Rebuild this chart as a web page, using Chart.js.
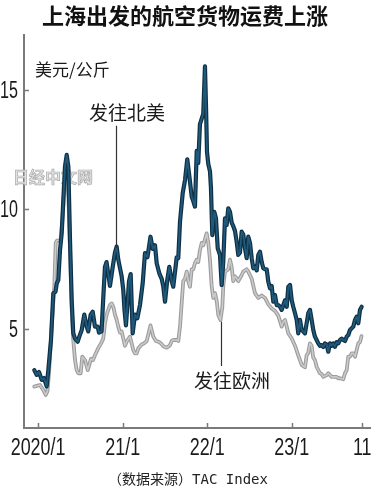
<!DOCTYPE html>
<html>
<head>
<meta charset="utf-8">
<script src="https://cdn.jsdelivr.net/npm/chart.js@4.4.0/dist/chart.umd.min.js"></script>
<style>
  html, body { margin: 0; padding: 0; background: #fff; }
  #wrap { width: 378px; height: 487px; }
</style>
</head>
<body>
<div id="wrap"><canvas id="chart" width="378" height="487"></canvas></div>
<script>
// months counted from 2020/1, rates in USD per kg
const naMonths = [-0.54, -0.20, 0.13, 0.51, 0.84, 1.22, 1.45, 1.83, 2.16, 2.47, 2.64, 2.87, 3.11, 3.35, 3.58, 3.82, 4.06, 4.29, 4.53, 4.77,
  4.99, 5.24, 5.62, 5.85, 6.19, 6.56, 6.90, 7.12, 7.46, 7.75, 8.07, 8.46, 8.64, 9.00, 9.25, 9.49, 9.71, 9.96, 10.20, 10.59,
  10.91, 11.15, 11.38, 11.86, 12.09, 12.26, 12.47, 12.71, 12.90, 13.14, 13.42, 13.75, 14.08, 14.46, 14.84, 15.17, 15.52, 15.95, 16.26, 16.59,
  16.83, 17.20, 17.54, 17.77, 18.01, 18.33, 18.62, 18.96, 19.18, 19.67, 19.89, 20.14, 20.52, 20.85, 21.17, 21.46, 21.80, 22.02, 22.26, 22.51,
  22.73, 22.97, 23.22, 23.44, 23.68, 23.83, 23.97, 24.15, 24.39, 24.53, 24.72, 25.00, 25.24, 25.49, 25.81, 26.05, 26.28, 26.52, 26.76, 26.99,
  27.23, 27.47, 27.70, 27.94, 28.18, 28.41, 28.65, 28.89, 29.12, 29.36, 29.60, 29.83, 30.07, 30.31, 30.54, 30.78, 31.02, 31.25, 31.49, 31.73,
  31.96, 32.20, 32.44, 32.67, 32.91, 33.15, 33.38, 33.62, 33.86, 34.09, 34.33, 34.57, 34.80, 35.04, 35.28, 35.51, 35.75, 35.99, 36.21, 36.46,
  36.70, 36.92, 37.16, 37.41, 37.63, 37.87, 38.11, 38.34, 38.58, 38.82, 39.05, 39.29, 39.53, 39.76, 40.00, 40.24, 40.47, 40.71, 40.95, 41.18,
  41.42, 41.66, 41.89, 42.13, 42.37, 42.60, 42.84, 43.08, 43.31, 43.55, 43.79, 44.02, 44.26, 44.50, 44.73, 44.97, 45.21, 45.44, 45.68, 45.92];
const naRate = [3.28, 3.08, 3.20, 2.87, 2.95, 2.60, 3.28, 4.54, 6.50, 6.56, 6.90, 7.05, 8.30, 9.00, 10.40, 11.80, 12.28, 11.80, 8.70, 6.20,
  4.83, 4.60, 4.47, 4.68, 4.96, 5.60, 5.10, 4.90, 5.60, 5.72, 5.10, 5.10, 4.85, 4.90, 6.30, 7.60, 7.80, 7.30, 6.80, 7.60,
  8.20, 8.45, 7.90, 7.20, 6.63, 5.80, 5.15, 6.14, 7.00, 7.30, 4.82, 5.60, 5.45, 6.00, 6.90, 8.17, 8.00, 8.86, 8.35, 8.50,
  7.75, 7.33, 7.10, 6.77, 6.14, 7.05, 7.60, 7.00, 6.77, 8.00, 7.96, 9.50, 10.68, 11.23, 12.10, 11.40, 10.53, 10.35, 10.12, 12.45,
  11.95, 13.57, 13.80, 14.00, 15.98, 14.30, 12.40, 11.90, 11.60, 10.90, 8.93, 9.90, 9.63, 8.37, 8.10, 6.84, 7.82, 9.63, 9.35, 10.05,
  9.90, 9.45, 9.30, 9.10, 8.65, 8.10, 8.20, 9.07, 8.95, 8.37, 7.96, 8.86, 8.60, 7.96, 7.54, 7.60, 7.45, 8.10, 8.23, 7.80,
  7.54, 7.50, 7.50, 6.98, 6.70, 6.80, 6.14, 6.42, 6.00, 6.00, 5.93, 5.80, 6.00, 6.20, 5.93, 6.77, 6.84, 6.20, 5.93, 5.66,
  5.38, 4.82, 5.38, 4.96, 4.90, 4.82, 5.24, 5.66, 5.80, 5.38, 4.96, 4.68, 4.54, 4.40, 4.30, 4.33, 4.25, 4.40, 4.35, 4.05,
  4.40, 4.30, 4.40, 4.26, 4.45, 4.40, 4.54, 4.60, 4.54, 4.50, 4.68, 4.75, 4.96, 5.03, 5.10, 5.38, 5.52, 5.24, 5.80, 5.93];

const euMonths = [-0.54, -0.20, 0.27, 0.74, 1.08, 1.33, 1.55, 1.93, 2.30, 2.50, 2.68, 2.89, 3.18, 3.46, 3.75, 4.03, 4.31, 4.53, 4.77, 4.99,
  5.24, 5.48, 5.70, 6.04, 6.27, 6.66, 7.04, 7.51, 7.79, 8.07, 8.54, 8.93, 9.25, 9.49, 9.73, 9.96, 10.20, 10.44, 10.67, 10.91,
  11.15, 11.38, 11.62, 11.86, 12.09, 12.33, 12.62, 13.04, 13.28, 13.51, 13.75, 13.99, 14.22, 14.70, 15.03, 15.41, 15.67, 15.95, 16.35, 16.73,
  17.06, 17.44, 17.77, 18.25, 18.48, 18.72, 18.96, 19.18, 19.67, 19.89, 20.14, 20.38, 20.60, 20.85, 21.09, 21.31, 21.55, 21.80, 22.02, 22.26,
  22.51, 22.73, 22.97, 23.22, 23.44, 23.68, 23.92, 24.15, 24.39, 24.63, 24.86, 25.10, 25.35, 25.57, 25.88, 26.14, 26.28, 26.52, 26.99, 27.23,
  27.47, 27.70, 27.94, 28.18, 28.41, 28.89, 29.12, 29.60, 29.83, 30.31, 30.78, 31.25, 31.73, 32.20, 32.67, 33.15, 33.62, 34.09, 34.57, 34.80,
  35.04, 35.28, 35.51, 35.99, 36.46, 36.92, 37.41, 37.87, 38.11, 38.34, 38.58, 38.82, 39.05, 39.29, 39.53, 39.76, 40.00, 40.24, 40.47, 40.95,
  41.18, 41.66, 41.89, 42.37, 42.60, 42.84, 43.31, 43.55, 43.79, 44.02, 44.26, 44.50, 44.73, 44.97, 45.21, 45.44, 45.68, 45.89];
const euRate = [2.59, 2.62, 2.66, 2.45, 2.24, 2.40, 3.15, 5.10, 6.77, 8.60, 8.70, 8.70, 8.70, 9.60, 11.00, 11.80, 10.50, 8.30, 5.80, 4.54,
  3.70, 3.28, 3.15, 3.15, 3.84, 3.70, 3.28, 3.75, 3.70, 3.90, 4.20, 4.40, 4.60, 5.24, 5.60, 5.80, 6.00, 6.07, 5.93, 5.60,
  5.38, 5.10, 4.85, 4.90, 4.60, 4.30, 4.50, 4.68, 4.40, 4.12, 3.98, 3.98, 4.19, 4.35, 4.40, 4.50, 4.80, 5.15, 4.68, 4.50,
  4.47, 4.40, 4.28, 4.22, 4.26, 4.33, 4.50, 4.54, 4.54, 4.50, 5.10, 6.10, 7.00, 7.10, 7.40, 7.00, 6.77, 7.50, 7.50, 7.75,
  7.90, 7.80, 8.30, 8.60, 8.50, 8.75, 9.00, 8.60, 7.90, 6.80, 6.30, 6.50, 6.17, 5.59, 5.38, 5.90, 6.80, 7.40, 7.50, 7.90,
  7.60, 7.00, 7.20, 7.12, 7.00, 7.26, 7.40, 7.50, 7.40, 7.10, 6.50, 6.30, 6.40, 6.30, 6.03, 5.86, 5.76, 5.55, 5.10, 5.30,
  5.38, 5.10, 4.82, 4.60, 4.30, 3.90, 3.50, 3.40, 3.90, 4.00, 4.40, 4.30, 3.80, 3.70, 3.42, 3.28, 3.15, 3.12, 3.00, 3.07,
  3.15, 3.00, 3.00, 3.00, 2.94, 2.94, 2.90, 3.15, 3.28, 3.84, 3.84, 3.98, 3.98, 3.84, 4.12, 4.40, 4.45, 4.70];

const yTicks = [5, 10, 15];
const xTicks = [0, 12, 24, 36, 46];
const xTickLabels = ['2020/1', '21/1', '22/1', '23/1', '11'];

const sans = "'Liberation Sans', sans-serif";
const cjk = "'Noto Sans CJK SC', sans-serif";

function points(months, rates) {
  return months.map((m, i) => ({ x: m, y: rates[i] }));
}

// squeezed text, the tick labels in the original are a condensed face
function narrowText(ctx, text, x, y, squeeze, align) {
  ctx.save();
  ctx.translate(x, y);
  ctx.scale(squeeze, 1);
  ctx.textAlign = align;
  ctx.textBaseline = 'alphabetic';
  ctx.fillText(text, 0, 0);
  ctx.restore();
}

// text and small marks that are not part of the series
const notes = {
  id: 'notes',
  beforeDatasetsDraw(chart) {
    const ctx = chart.ctx;
    ctx.save();
    ctx.font = 'bold 16px ' + cjk;
    ctx.textAlign = 'left';
    ctx.textBaseline = 'middle';
    ctx.fillStyle = '#e2e2e2';
    ctx.fillText('日经中文网', 13, 177);
    ctx.lineWidth = 0.7;
    ctx.strokeStyle = '#ababab';
    ctx.strokeText('日经中文网', 13, 177);
    ctx.restore();
  },
  afterDraw(chart) {
    const ctx = chart.ctx;
    const xs = chart.scales.x, ys = chart.scales.y;
    const area = chart.chartArea;
    ctx.save();

    // tick marks inside the axes
    ctx.strokeStyle = '#7a7a7a';
    ctx.lineWidth = 1.5;
    ctx.beginPath();
    yTicks.forEach(v => {
      const y = Math.round(ys.getPixelForValue(v)) + 0.5;
      ctx.moveTo(area.left, y);
      ctx.lineTo(area.left + 5, y);
    });
    xTicks.forEach(v => {
      const x = Math.round(xs.getPixelForValue(v)) + 0.5;
      ctx.moveTo(x, area.bottom);
      ctx.lineTo(x, area.bottom - 5);
    });
    ctx.stroke();

    // tick labels
    ctx.fillStyle = '#1a1a1a';
    ctx.font = '23px ' + sans;
    ys.ticks.forEach(t => {
      narrowText(ctx, String(t.value), area.left - 6, ys.getPixelForValue(t.value) + 8, 0.7, 'right');
    });
    xs.ticks.forEach((t, i) => {
      narrowText(ctx, xTickLabels[i], xs.getPixelForValue(t.value), area.bottom + 27, 0.78, 'center');
    });

    // leader lines
    ctx.strokeStyle = '#333';
    ctx.lineWidth = 1.2;
    ctx.beginPath();
    let x = Math.round(xs.getPixelForValue(11.05)) + 0.5;
    ctx.moveTo(x, ys.getPixelForValue(13.5));
    ctx.lineTo(x, ys.getPixelForValue(8.4));
    x = Math.round(xs.getPixelForValue(25.96)) + 0.5;
    ctx.moveTo(x, ys.getPixelForValue(5.3));
    ctx.lineTo(x, ys.getPixelForValue(3.45));
    ctx.stroke();

    ctx.fillStyle = '#1a1a1a';
    ctx.textBaseline = 'middle';
    ctx.textAlign = 'left';
    ctx.font = '17px ' + cjk;
    ctx.fillText('美元/公斤', area.left + 11, area.top + 35);

    ctx.textAlign = 'center';
    ctx.font = '19px ' + cjk;
    ctx.fillText('发往北美', xs.getPixelForValue(12.6), ys.getPixelForValue(14.04));
    ctx.fillText('发往欧洲', xs.getPixelForValue(27.5), ys.getPixelForValue(2.82));

    ctx.font = "14px 'DejaVu Sans Mono', " + cjk;
    ctx.fillStyle = '#222';
    ctx.fillText('（数据来源）TAC Index', 188, 480);
    ctx.restore();
  }
};

new Chart(document.getElementById('chart'), {
  type: 'line',
  data: {
    datasets: [
      { label: '发往北美', data: points(naMonths, naRate), borderColor: '#1f5a7c', borderWidth: 1.8, order: 0 },
      { label: '发往北美', data: points(naMonths, naRate), borderColor: '#0f2f44', borderWidth: 4.2, order: 1 },
      { label: '发往欧洲', data: points(euMonths, euRate), borderColor: '#cacaca', borderWidth: 1.6, order: 2 },
      { label: '发往欧洲', data: points(euMonths, euRate), borderColor: '#9c9c9c', borderWidth: 3.8, order: 3 }
    ]
  },
  options: {
    responsive: false,
    animation: false,
    devicePixelRatio: 1,
    layout: { padding: { top: 0, right: 8, bottom: 29, left: 0 } },
    elements: {
      point: { radius: 0 },
      line: { tension: 0, borderJoinStyle: 'round', borderCapStyle: 'round', fill: false }
    },
    plugins: {
      legend: { display: false },
      tooltip: { enabled: false },
      title: {
        display: true,
        text: '上海出发的航空货物运费上涨',
        color: '#111',
        font: { family: cjk, size: 22, weight: 'bold', lineHeight: 1.2 },
        padding: { top: 2.5, bottom: 6 }
      }
    },
    scales: {
      x: {
        type: 'linear',
        min: -2.0,
        max: 47.1,
        afterFit(s) { s.height = 30; },
        afterBuildTicks(s) { s.ticks = xTicks.map(v => ({ value: v })); },
        grid: { display: false },
        border: { display: true, color: '#7a7a7a', width: 2 },
        ticks: { display: false }
      },
      y: {
        min: 0.86,
        max: 17.3,
        afterFit(s) { s.width = 24; },
        afterBuildTicks(s) { s.ticks = yTicks.map(v => ({ value: v })); },
        grid: { display: false },
        border: { display: true, color: '#7a7a7a', width: 2 },
        ticks: { display: false }
      }
    }
  },
  plugins: [notes]
});
</script>
</body>
</html>
